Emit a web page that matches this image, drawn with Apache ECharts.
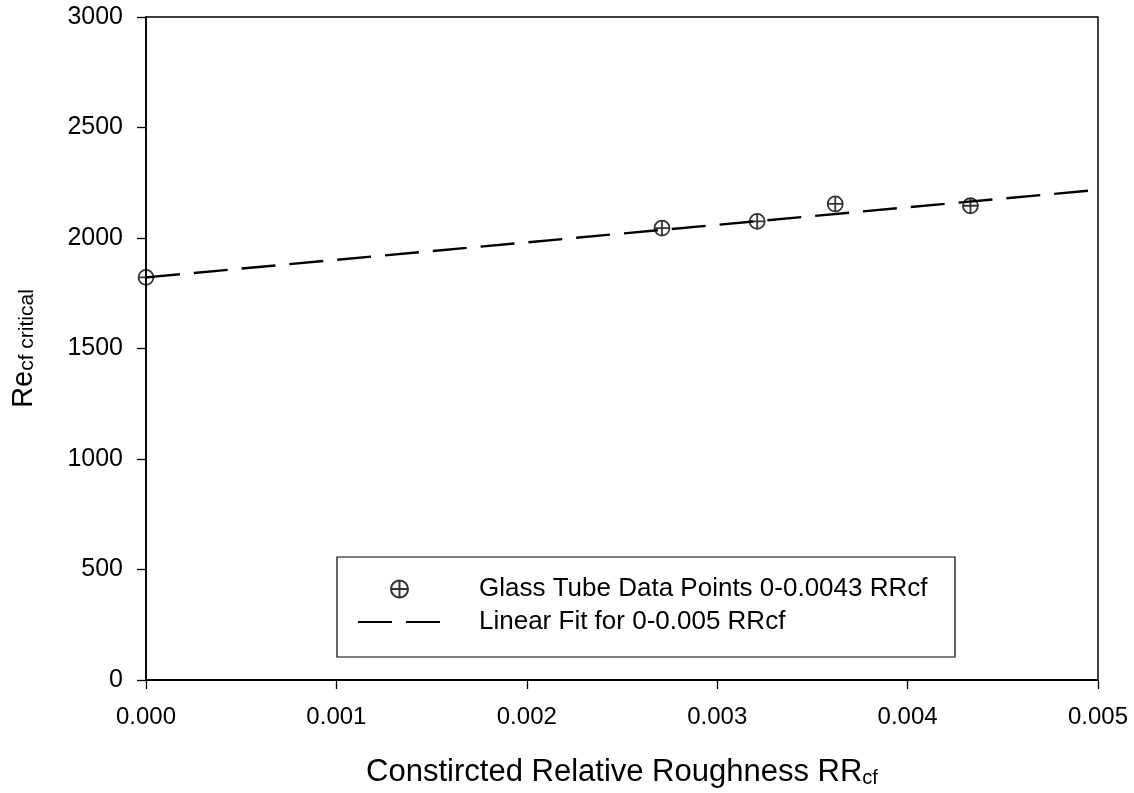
<!DOCTYPE html>
<html>
<head>
<meta charset="utf-8">
<script src="https://cdn.jsdelivr.net/npm/echarts@6/dist/echarts.min.js"></script>
<style>
  html, body { margin: 0; padding: 0; background: #fff; }
  #chart { width: 1134px; height: 793px; }
</style>
</head>
<body>
<div id="chart"></div>
<script>
// Glass tube measurements: constricted relative roughness vs critical Reynolds number
const pointRR = [0, 0.00271, 0.00321, 0.00362, 0.00433];
const pointRe = [1822, 2045, 2075, 2154, 2146];

// Linear fit end points over 0-0.005 RRcf
const fitRR = [0, 0.005];
const fitRe = [1822, 2218];

// Axis tick settings
const xTicks = { min: 0, max: 0.005, step: 0.001 };
const yTicks = { min: 0, max: 3000, step: 500 };

const seriesNames = ['Glass Tube Data Points 0-0.0043 RRcf', 'Linear Fit for 0-0.005 RRcf'];

// circle with a crosshair
const crossCircle = 'path://M0,-7L0,7M-7,0L7,0M7,0A7,7,0,1,1,-7,0A7,7,0,1,1,7,0';

const font = '"Liberation Sans", Arial, sans-serif';

const titleRich = {
  m: { fontFamily: font, fontSize: 31, color: '#000', lineHeight: 35, verticalAlign: 'bottom' },
  s: { fontFamily: font, fontSize: 20, color: '#000', lineHeight: 24, verticalAlign: 'bottom' }
};
const yTitleRich = {
  m: { fontFamily: font, fontSize: 29, color: '#000', lineHeight: 34, verticalAlign: 'bottom' },
  s: { fontFamily: font, fontSize: 21, color: '#000', lineHeight: 25, verticalAlign: 'bottom' }
};

const chart = echarts.init(document.getElementById('chart'));
chart.setOption({
  animation: false,
  backgroundColor: '#fff',
  textStyle: { fontFamily: font, color: '#000' },
  grid: {
    left: 146, right: 36, top: 17, bottom: 112,
    show: true, borderColor: '#000', borderWidth: 1.5, backgroundColor: 'transparent'
  },
  graphic: [{
    type: 'rect',
    shape: { x: 337, y: 557, width: 618, height: 100 },
    style: { fill: '#fff', stroke: '#000', lineWidth: 1.2 },
    z: 5
  }],
  legend: {
    orient: 'vertical',
    left: 357, top: 575,
    padding: 0,
    itemWidth: 83, itemHeight: 17, itemGap: 5,
    z: 10,
    textStyle: { fontFamily: font, fontSize: 26, color: '#000', lineHeight: 28, padding: [0, 0, 0, 33] },
    data: [
      { name: seriesNames[0] },
      { name: seriesNames[1] }
    ]
  },
  xAxis: {
    type: 'value',
    min: xTicks.min, max: xTicks.max, interval: xTicks.step,
    name: '{m|Constircted Relative Roughness RR}{s|cf}',
    nameLocation: 'middle', nameGap: 73,
    nameTextStyle: { rich: titleRich },
    axisLine: { show: true, onZero: false, lineStyle: { color: '#000', width: 1.8 } },
    axisTick: { show: true, inside: false, length: 9, lineStyle: { color: '#000', width: 1.3 } },
    axisLabel: { fontFamily: font, fontSize: 24, color: '#000', margin: 25, formatter: v => v.toFixed(3) },
    splitLine: { show: false }
  },
  yAxis: {
    type: 'value',
    min: yTicks.min, max: yTicks.max, interval: yTicks.step,
    name: '{m|Re}{s|cf critical}',
    nameLocation: 'middle', nameGap: 108, nameRotate: 90,
    nameTextStyle: { rich: yTitleRich },
    axisLine: { show: true, onZero: false, lineStyle: { color: '#000', width: 1.8 } },
    axisTick: { show: true, inside: false, length: 9, lineStyle: { color: '#000', width: 1.3 } },
    axisLabel: { fontFamily: font, fontSize: 25, color: '#000', margin: 23, formatter: v => String(v) },
    splitLine: { show: false }
  },
  series: [
    {
      name: seriesNames[1],
      type: 'line',
      data: fitRR.map((x, i) => [x, fitRe[i]]),
      showSymbol: false,
      symbol: 'none',
      lineStyle: { color: '#000', width: 2.4, type: [34, 14] },
      itemStyle: { color: 'rgba(0,0,0,0)', borderWidth: 0 },
      z: 2
    },
    {
      name: seriesNames[0],
      type: 'scatter',
      data: pointRR.map((x, i) => [x, pointRe[i]]),
      symbol: crossCircle,
      symbolSize: 15,
      symbolKeepAspect: true,
      itemStyle: { color: 'rgba(0,0,0,0)', borderColor: '#000', borderWidth: 1.8 },
      z: 3
    }
  ]
});
</script>
</body>
</html>
